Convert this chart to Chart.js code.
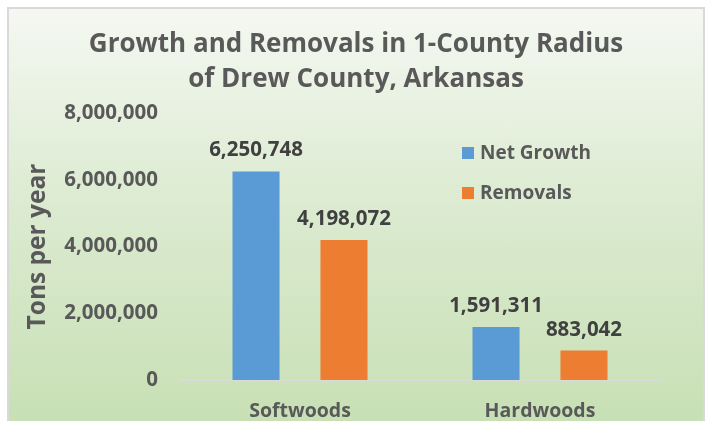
<!DOCTYPE html>
<html>
<head>
<meta charset="utf-8">
<script src="https://cdn.jsdelivr.net/npm/chart.js@4/dist/chart.umd.min.js"></script>
<style>
    html, body { margin: 0; padding: 0; background: #ffffff; overflow: hidden; }
    #frame {
        position: absolute; left: 7px; top: 7px; width: 698px; height: 430px;
        border: 2px solid #d9d9d9; box-sizing: border-box;
        background: linear-gradient(to bottom, #f5f8f2 0%, #dcebd1 45%, #c6dfb3 100%);
    }
    #chartHolder { position: absolute; left: 0; top: 0; width: 712px; height: 421px; }
</style>
</head>
<body>
<div id="frame"></div>
<div id="chartHolder"><canvas id="chart" width="712" height="421"></canvas></div>
<script>
// Chart data
const categories = ['Softwoods', 'Hardwoods'];
const seriesNames = ['Net Growth', 'Removals'];
const netGrowth = [6250748, 1591311];
const removals = [4198072, 883042];
const yTicks = [0, 2000000, 4000000, 6000000, 8000000];
const titleLines = ['Growth and Removals in 1-County Radius', 'of Drew County, Arkansas'];
const yTitle = 'Tons per year';

const fontFamily = '"Open Sans", sans-serif';
const textGray = '#595959';

function fmt(v) {
    return v.toLocaleString('en-US');
}

// Value labels above each bar
const barLabels = {
    id: 'barLabels',
    afterDatasetsDraw(chart) {
        const ctx = chart.ctx;
        ctx.save();
        ctx.font = 'bold 20.5px ' + fontFamily;
        ctx.fillStyle = '#404040';
        ctx.textAlign = 'center';
        ctx.textBaseline = 'alphabetic';
        chart.data.datasets.forEach((ds, i) => {
            chart.getDatasetMeta(i).data.forEach((bar, j) => {
                ctx.fillText(fmt(ds.data[j]), bar.x, bar.y - 15);
            });
        });
        ctx.restore();
    }
};

// Legend drawn inside the plot area, to the right
const sideLegend = {
    id: 'sideLegend',
    afterDraw(chart) {
        const ctx = chart.ctx;
        const x = chart.chartArea.left + 282;
        const y0 = chart.chartArea.top + 40;
        ctx.save();
        ctx.font = 'bold 19px ' + fontFamily;
        ctx.textBaseline = 'middle';
        ctx.textAlign = 'left';
        chart.data.datasets.forEach((ds, i) => {
            const y = y0 + i * 40;
            ctx.fillStyle = ds.backgroundColor;
            ctx.fillRect(x, y - 6, 12, 12);
            ctx.fillStyle = textGray;
            ctx.fillText(ds.label, x + 18, y + 1);
        });
        ctx.restore();
    }
};

const config = {
    type: 'bar',
    data: {
        labels: categories,
        datasets: [
            { label: seriesNames[0], data: netGrowth, backgroundColor: '#5b9bd5', yAxisID: 'y' },
            { label: seriesNames[1], data: removals, backgroundColor: '#ed7d31', yAxisID: 'y' }
        ]
    },
    options: {
        responsive: false,
        animation: false,
        categoryPercentage: 0.733,
        barPercentage: 0.535,
        layout: { padding: 0 },
        scales: {
            x: {
                afterFit(scale) {
                    scale.height = 41;
                },
                grid: { display: false, drawTicks: false },
                border: { display: true, color: '#d9d9d9', width: 2 },
                ticks: {
                    padding: 20,
                    color: textGray,
                    font: { family: fontFamily, size: 19.5, weight: 'bold' }
                }
            },
            y: {
                min: 0,
                max: 8000000,
                afterBuildTicks(scale) {
                    scale.ticks = yTicks.map(v => ({ value: v }));
                },
                afterFit(scale) {
                    scale.width = 180;
                },
                grid: { display: false, drawTicks: false },
                border: { display: false },
                ticks: {
                    padding: 22,
                    color: textGray,
                    font: { family: fontFamily, size: 20.5, weight: 'bold' },
                    callback: v => fmt(v)
                },
                title: {
                    display: true,
                    text: yTitle,
                    color: textGray,
                    padding: { top: 23, bottom: 0 },
                    font: { family: fontFamily, size: 24.5, weight: 'bold' }
                }
            },
            // empty right-hand axis, only reserves the margin so the title stays centred on the frame
            spacer: {
                type: 'linear',
                position: 'right',
                afterFit(scale) {
                    scale.width = 52;
                },
                grid: { display: false, drawTicks: false },
                border: { display: false },
                ticks: { display: false }
            }
        },
        plugins: {
            legend: { display: false },
            tooltip: { enabled: false },
            title: {
                display: true,
                text: titleLines,
                color: textGray,
                padding: { top: 27.5, bottom: 15.5 },
                font: { family: fontFamily, size: 26, weight: 'bold', lineHeight: 1.346 }
            }
        }
    },
    plugins: [barLabels, sideLegend]
};

new Chart(document.getElementById('chart').getContext('2d'), config);
</script>
</body>
</html>
